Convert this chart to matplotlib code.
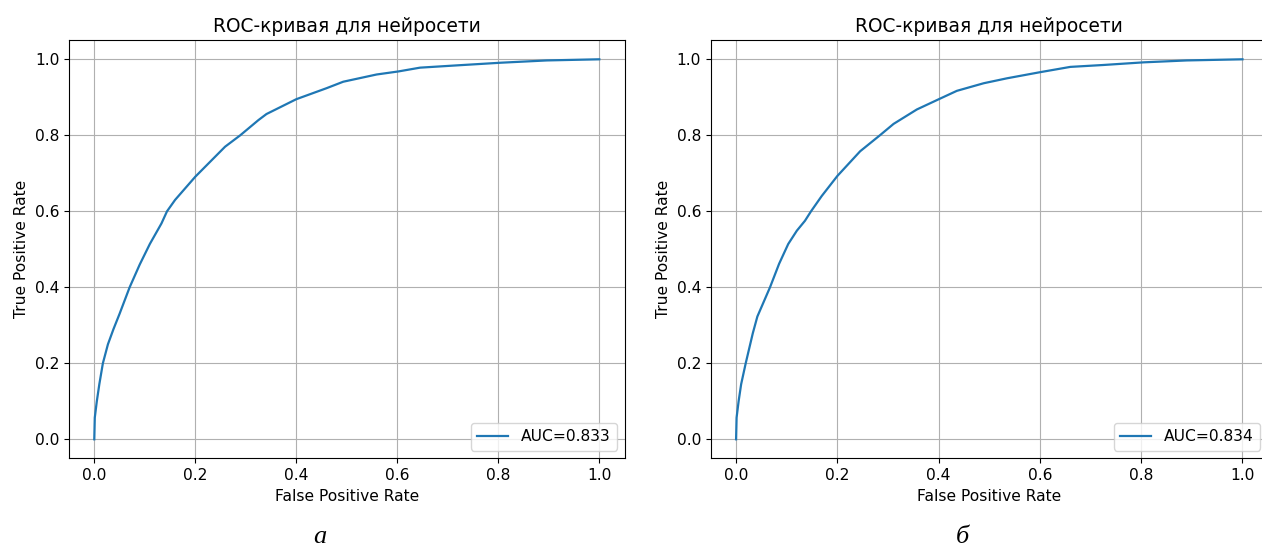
import matplotlib
matplotlib.use("Agg")
import matplotlib.pyplot as plt

plt.rcParams["font.size"] = 11.2

# ROC points for the two network variants
fpr_a = [0, 0.001, 0.005, 0.01, 0.017, 0.027, 0.038, 0.05, 0.07, 0.09, 0.11, 0.133,
         0.144, 0.16, 0.2, 0.259, 0.289, 0.325, 0.341, 0.4, 0.46, 0.493, 0.559, 0.602,
         0.645, 0.718, 0.805, 0.896, 1.0]
tpr_a = [0, 0.057, 0.1, 0.145, 0.2, 0.25, 0.29, 0.33, 0.4, 0.46, 0.514, 0.568,
         0.6, 0.63, 0.691, 0.77, 0.8, 0.84, 0.856, 0.895, 0.924, 0.941, 0.96, 0.968,
         0.978, 0.984, 0.991, 0.997, 1.0]
auc_a = 0.833

fpr_b = [0, 0.001, 0.005, 0.01, 0.019, 0.033, 0.042, 0.067, 0.085, 0.103, 0.12, 0.136,
         0.148, 0.169, 0.2, 0.245, 0.284, 0.311, 0.357, 0.402, 0.436, 0.489, 0.535,
         0.6, 0.66, 0.725, 0.805, 0.89, 1.0]
tpr_b = [0, 0.057, 0.1, 0.145, 0.2, 0.279, 0.323, 0.4, 0.462, 0.514, 0.549, 0.575,
         0.6, 0.64, 0.693, 0.758, 0.8, 0.83, 0.868, 0.896, 0.917, 0.937, 0.95,
         0.966, 0.98, 0.985, 0.992, 0.997, 1.0]
auc_b = 0.834

panels = [(fpr_a, tpr_a, auc_a), (fpr_b, tpr_b, auc_b)]
tags = ["а", "б"]

fig = plt.figure(figsize=(12.62, 5.46), dpi=100)
boxes = [[0.0547, 0.1606, 0.4402, 0.7656], [0.5632, 0.1606, 0.4414, 0.7656]]

for box, (fpr, tpr, auc) in zip(boxes, panels):
    ax = fig.add_axes(box)
    ax.plot(fpr, tpr, color="#1f77b4", lw=1.6, label=f"AUC={auc}")
    ax.set_xlim(-0.05, 1.05)
    ax.set_ylim(-0.05, 1.05)
    ax.grid(True)
    ax.set_title("ROC-кривая для нейросети", fontsize=13.4)
    ax.set_xlabel("False Positive Rate")
    ax.set_ylabel("True Positive Rate")
    ax.legend(loc="lower right")

# panel letters under each plot
for xpos, tag in zip([0.2536, 0.763], tags):
    fig.text(xpos, 0.006, tag, ha="center", va="baseline",
             fontsize=19, family="Liberation Serif", style="italic")

plt.savefig("out.png", dpi=100)
